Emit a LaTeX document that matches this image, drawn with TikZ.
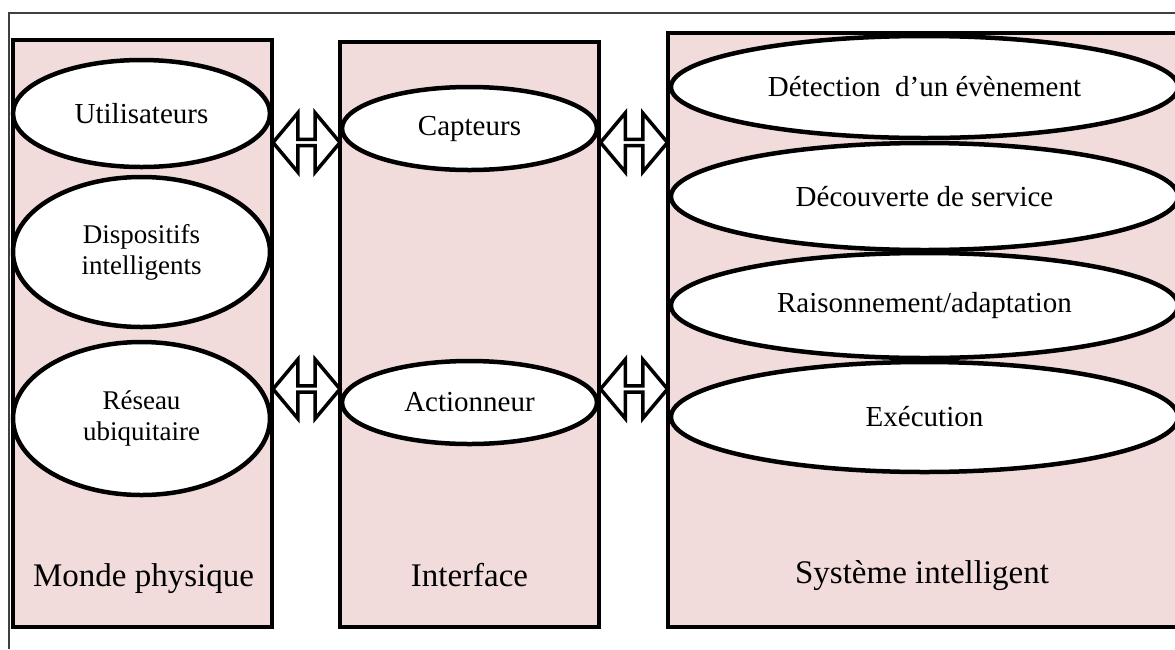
\documentclass[tikz,border=0pt]{standalone}
\usepackage{fontspec}
\setmainfont{Liberation Serif}
\usetikzlibrary{shapes.geometric,shapes.arrows}
\definecolor{panelpink}{RGB}{242,220,219}

\begin{document}
\begin{tikzpicture}[x=1pt, y=-1pt,
      panel/.style={draw, line width=4pt, fill=panelpink, inner sep=0pt},
      bubble/.style={ellipse, draw, line width=4.5pt, fill=white, inner sep=0pt,
        align=center, font=\fontsize{29}{33}\selectfont},
      smallbubble/.style={bubble, font=\fontsize{27}{31}\selectfont},
      title/.style={anchor=base, font=\fontsize{33}{38}\selectfont},
      link/.style={double arrow, draw, line width=3.5pt, fill=white, inner sep=0pt,
        double arrow head extend=15pt, double arrow tip angle=100,
        minimum height=67pt, minimum width=59pt}]
      \useasboundingbox (0, 0) rectangle (1175, 649);
      \fill [white] (0, 0) rectangle (1175, 649);
      \draw [line width=1.5pt, black!75] (9, 649) -- (9, 13) -- (1175, 13);

      % the three panels
      \node [panel, minimum width=259pt, minimum height=587pt] (monde) at (142.5, 333.5) {};
      \node [panel, minimum width=259pt, minimum height=585pt] (itf) at (469.5, 334.5) {};
      \node [panel, minimum width=517pt, minimum height=594pt] (sys) at (926.5, 330) {};
      \node [title] (mondeT) at (143.5, 586) {Monde physique};
      \node [title] (itfT) at (469.5, 586) {Interface};
      \node [title] (sysT) at (922, 583) {Système intelligent};

      % monde physique
      \node [bubble, minimum width=257pt, minimum height=107pt] (util) at (141.5, 113.5) {Utilisateurs};
      \node [smallbubble, minimum width=257pt, minimum height=150pt] (disp) at (141.5, 252) {Dispositifs\\intelligents};
      \node [smallbubble, minimum width=257pt, minimum height=153pt] (reseau) at (141.5, 418.5) {Réseau\\ubiquitaire};

      % interface
      \node [bubble, minimum width=255pt, minimum height=83pt] (capt) at (469.5, 128.5) {Capteurs};
      \node [bubble, minimum width=255pt, minimum height=83pt] (act) at (469.5, 402.5) {Actionneur};

      % systeme intelligent
      \node [bubble, minimum width=507pt, minimum height=102pt] (detect) at (924.5, 87) {Détection~ d’un évènement};
      \node [bubble, minimum width=507pt, minimum height=107pt] (decouv) at (924.5, 196.5) {Découverte de service};
      \node [bubble, minimum width=507pt, minimum height=105pt] (raison) at (924.5, 305.5) {Raisonnement/adaptation};
      \node [bubble, minimum width=507pt, minimum height=110pt] (exec) at (924.5, 417) {Exécution};

      % double arrows between the panels
      \node [link] (lienA) at (306.5, 142.5) {};
      \node [link] (lienB) at (306.5, 389) {};
      \node [link] (lienC) at (634, 142.5) {};
      \node [link] (lienD) at (634, 389) {};
    \end{tikzpicture}
\end{document}
